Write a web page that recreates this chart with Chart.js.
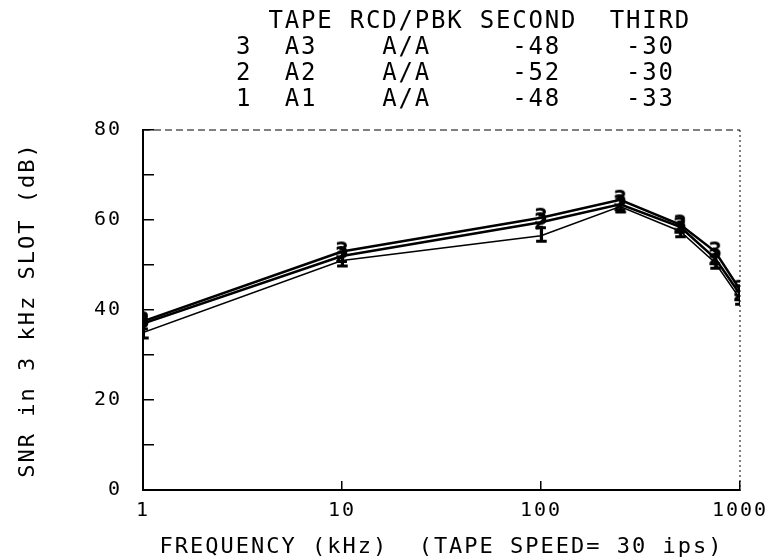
<!DOCTYPE html>
<html>
<head>
<meta charset="utf-8">
<script src="https://cdn.jsdelivr.net/npm/chart.js@4.4.1/dist/chart.umd.min.js"></script>
<style>
  html, body { margin: 0; padding: 0; background: #fff; }
  #wrap { width: 774px; height: 560px; }
</style>
</head>
<body>
<div id="wrap"><canvas id="snrChart"></canvas></div>
<script>
// frequency points (kHz) and SNR readings (dB) per tape
const freqs = [1, 10, 100, 250, 500, 750, 1000];
const snrTape3 = [37.5, 53, 60.5, 64.5, 59, 53, 44.5];
const snrTape2 = [37, 52, 59.5, 63.5, 58.5, 51.5, 43.5];
const snrTape1 = [35, 51, 56.5, 63, 57.5, 50.5, 42.5];

// header table
const tapeNums = ['3', '2', '1'];
const tapeNames = ['A3', 'A2', 'A1'];
const rcdPbk = ['A/A', 'A/A', 'A/A'];
const secondHarm = [-48, -52, -48];
const thirdHarm = [-30, -30, -33];

const xTicks = [1, 10, 100, 1000];
const FONT = 'DejaVu Sans Mono';

// digit glyph used as the point marker
const digitMarker = (digit) => {
  const c = document.createElement('canvas');
  c.width = 18;
  c.height = 24;
  const g = c.getContext('2d');
  g.font = `bold 23px ${FONT}`;
  g.textAlign = 'center';
  g.textBaseline = 'middle';
  g.fillStyle = '#000';
  g.fillText(digit, 9, 13);
  return c;
};

// wide plotter-style lettering
const spacingPlugin = {
  id: 'spacing',
  beforeLayout: (chart) => { chart.ctx.letterSpacing = '2px'; },
  beforeDraw: (chart) => { chart.ctx.letterSpacing = '2px'; }
};

// dashed top and dotted right edge of the frame
const framePlugin = {
  id: 'frame',
  beforeDatasetsDraw: (chart) => {
    const { ctx, chartArea: { left, right, top, bottom } } = chart;
    ctx.save();
    ctx.strokeStyle = '#000';
    ctx.lineWidth = 1;
    ctx.setLineDash([7, 4]);
    ctx.beginPath();
    ctx.moveTo(left, top);
    ctx.lineTo(right, top);
    ctx.stroke();
    ctx.setLineDash([2, 3]);
    ctx.beginPath();
    ctx.moveTo(right, top);
    ctx.lineTo(right, bottom);
    ctx.stroke();
    ctx.restore();
  }
};

// tape / distortion table above the plot
const headerPlugin = {
  id: 'header',
  afterDraw: (chart) => {
    const ctx = chart.ctx;
    const rows = ['  TAPE RCD/PBK SECOND  THIRD'];
    tapeNums.forEach((n, i) => {
      rows.push(n + '  ' + tapeNames[i].padEnd(6) + rcdPbk[i].padEnd(8) +
        String(secondHarm[i]).padEnd(7) + thirdHarm[i]);
    });
    ctx.save();
    ctx.font = `24px ${FONT}`;
    ctx.letterSpacing = '1.8px';
    ctx.fillStyle = '#000';
    ctx.textAlign = 'left';
    ctx.textBaseline = 'middle';
    rows.forEach((r, i) => ctx.fillText(r, 236, 22 + i * 26));
    ctx.restore();
  }
};

const makeSet = (label, data, digit, width) => ({
  label,
  data: freqs.map((f, i) => ({ x: f, y: data[i] })),
  borderColor: '#000',
  borderWidth: width,
  pointStyle: digitMarker(digit),
  pointRadius: 9,
  tension: 0
});

new Chart(document.getElementById('snrChart'), {
  type: 'line',
  data: {
    datasets: [
      makeSet('3', snrTape3, '3', 2.5),
      makeSet('2', snrTape2, '2', 2.5),
      makeSet('1', snrTape1, '1', 1.5)
    ]
  },
  options: {
    responsive: true,
    maintainAspectRatio: false,
    animation: false,
    layout: { padding: { top: 130, left: 4, right: 34, bottom: 0 } },
    plugins: {
      legend: { display: false },
      tooltip: { enabled: false }
    },
    scales: {
      x: {
        type: 'logarithmic',
        min: 1,
        max: 1000,
        afterBuildTicks: (s) => { s.ticks = xTicks.map(v => ({ value: v })); },
        afterFit: (s) => { s.height = 70; s.paddingLeft = 0; s.paddingRight = 0; },
        border: { display: true, color: '#000', width: 2 },
        grid: { drawOnChartArea: false, drawTicks: true, tickLength: -9, color: '#000', lineWidth: 1.5 },
        ticks: {
          color: '#000',
          font: { family: FONT, size: 20 },
          padding: 18,
          maxRotation: 0,
          callback: (v) => String(v)
        },
        title: {
          display: true,
          text: 'FREQUENCY (kHz)  (TAPE SPEED= 30 ips)',
          color: '#000',
          font: { family: FONT, size: 22 },
          padding: { top: 0, bottom: 0 }
        }
      },
      y: {
        min: 0,
        max: 80,
        afterFit: (s) => { s.width = 139; },
        border: { display: true, color: '#000', width: 2 },
        grid: { drawOnChartArea: false, drawTicks: true, tickLength: -11, color: '#000', lineWidth: 1.5 },
        ticks: {
          stepSize: 10,
          color: '#000',
          font: { family: FONT, size: 20 },
          padding: 32,
          callback: (v) => (v % 20 === 0 ? String(v) : '')
        },
        title: {
          display: true,
          text: 'SNR in 3 kHz SLOT (dB)',
          color: '#000',
          font: { family: FONT, size: 22 },
          padding: { top: 11, bottom: 0 }
        }
      }
    }
  },
  plugins: [spacingPlugin, framePlugin, headerPlugin]
});
</script>
</body>
</html>
